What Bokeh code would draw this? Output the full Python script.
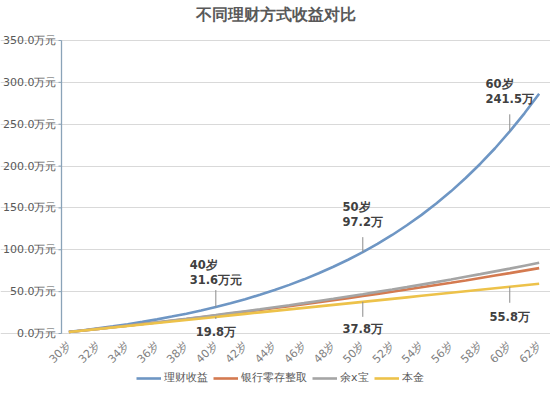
import math
from bokeh.plotting import figure
from bokeh.models import (ColumnDataSource, FixedTicker, Legend, LegendItem, Range1d, LabelSet, Label)
from bokeh.core.properties import value
from bokeh.embed import file_html
from bokeh.resources import INLINE

# ---- data ----
ages = list(range(30, 63))
licai = [1.9, 3.9, 6.1, 8.5, 11.1, 13.9, 16.9, 20.2, 23.7, 27.5, 31.6,
         36.2, 41.0, 46.3, 51.9, 58.1, 64.7, 71.9, 79.7, 88.1, 97.2,
         107.1, 117.7, 129.3, 141.7, 155.2, 169.8, 185.7, 202.8, 221.3, 241.5,
         263.0, 286.4]
bank = [1.8, 3.6, 5.5, 7.4, 9.3, 11.3, 13.2, 15.3, 17.3, 19.4, 21.5,
        23.7, 25.9, 28.1, 30.4, 32.7, 35.0, 37.4, 39.8, 42.3, 44.7,
        47.3, 49.9, 52.5, 55.2, 57.9, 60.6, 63.4, 66.3, 69.2, 72.1,
        75.1, 78.1]
yuebao = [1.8, 3.6, 5.5, 7.4, 9.4, 11.4, 13.4, 15.5, 17.6, 19.8, 22.0,
          24.3, 26.6, 28.9, 31.4, 33.8, 36.3, 38.9, 41.5, 44.2, 46.9,
          49.7, 52.5, 55.4, 58.4, 61.4, 64.5, 67.7, 70.9, 74.2, 77.5,
          81.0, 84.5]
benjin = [1.8, 3.6, 5.4, 7.2, 9.0, 10.8, 12.6, 14.4, 16.2, 18.0, 19.8,
          21.6, 23.4, 25.2, 27.0, 28.8, 30.6, 32.4, 34.2, 36.0, 37.8,
          39.6, 41.4, 43.2, 45.0, 46.8, 48.6, 50.4, 52.2, 54.0, 55.8,
          57.6, 59.4]
series_names = ["理财收益", "银行零存整取", "余x宝", "本金"]
y_ticks = [0, 50, 100, 150, 200, 250, 300, 350]
y_tick_labels = [f"{t:.1f}万元" for t in y_ticks]
x_ticks = list(range(30, 63, 2))
x_tick_labels = [f"{t}岁" for t in x_ticks]
ann_ages = [40, 50, 60]
ann_top = ["40岁\n31.6万元", "50岁\n97.2万", "60岁\n241.5万"]
ann_bottom = ["19.8万", "37.8万", "55.8万"]
title_text = "不同理财方式收益对比"

# ---- styles / layout (pixels) ----
colors = ["#6E96C4", "#D47A50", "#A5A5A5", "#EDC24A"]
FONT = "DejaVu Sans"
TXT = "#595959"
AXIS_C = "#8AA3B8"
W, H = 550, 400            # the frame covers the whole figure
PLOT_L, PLOT_R = 61, 546   # pixel span of the category band
PLOT_T, PLOT_B = 40, 333   # pixel span of the 0..350 value band
X0, X1 = ages[0] - 0.5, ages[-1] + 0.5
Y_MAX = y_ticks[-1]
PXX = (X1 - X0) / (PLOT_R - PLOT_L)
PX = Y_MAX / (PLOT_B - PLOT_T)

p = figure(frame_width=W, frame_height=H, output_backend="svg",
           toolbar_location=None, x_axis_location=None, y_axis_location=None,
           x_range=Range1d(X0 - PLOT_L * PXX, X1 + (W - PLOT_R) * PXX),
           y_range=Range1d(-(H - PLOT_B) * PX, Y_MAX + PLOT_T * PX),
           min_border=0, background_fill_color="white",
           border_fill_color="white", outline_line_color=None)

# grid (horizontal only, bounded to the plot band)
p.xgrid.visible = False
p.ygrid.ticker = FixedTicker(ticks=y_ticks)
p.ygrid.bounds = (X0, X1)
p.ygrid.grid_line_color = "#D9D9D9"
p.ygrid.grid_line_width = 1

# series
src = ColumnDataSource(dict(age=ages, licai=licai, bank=bank, yuebao=yuebao, benjin=benjin))
renderers = []
for col, c in zip(["licai", "bank", "yuebao", "benjin"], colors):
    r = p.line("age", col, source=src, line_color=c, line_width=2.6)
    renderers.append(r)

# y axis line, ticks and labels
p.segment(x0=[X0], y0=[0], x1=[X0], y1=[Y_MAX], line_color=AXIS_C, line_width=1.3)
p.segment(x0=[X0] * len(y_ticks), y0=y_ticks, x1=[X0 - 3 * PXX] * len(y_ticks), y1=y_ticks,
          line_color=AXIS_C, line_width=1)
yt_src = ColumnDataSource(dict(x=[X0] * len(y_ticks), y=y_ticks, t=y_tick_labels))
p.add_layout(LabelSet(x="x", y="y", text="t", source=yt_src, x_offset=-5,
                      text_align="right", text_baseline="middle",
                      text_font=value(FONT), text_font_size="11px", text_color=TXT))

# x tick labels (rotated)
xt_src = ColumnDataSource(dict(x=x_ticks, y=[0] * len(x_ticks), t=x_tick_labels))
p.add_layout(LabelSet(x="x", y="y", text="t", source=xt_src, angle=math.pi / 4,
                      x_offset=0, y_offset=-10, text_align="right", text_baseline="middle",
                      text_font=value(FONT), text_font_size="11px", text_color="#7F7F7F"))

# title
p.add_layout(Label(x=275, y=H - 14, x_units="screen", y_units="screen", text=title_text,
                   text_align="center", text_baseline="middle", text_font=FONT,
                   text_font_size="16px", text_font_style="bold", text_color=TXT))

# data annotations with leader lines
idx = [ages.index(a) for a in ann_ages]
top_vals = [licai[i] for i in idx]
bot_vals = [benjin[i] for i in idx]
top_lead = [17, 15, 17]
top_gap = [20, 23, 25]
bot_lead = [2, 15, 16]
bot_gap = [-8, -20, -23]

p.segment(x0=ann_ages, y0=top_vals, x1=ann_ages,
          y1=[v + l * PX for v, l in zip(top_vals, top_lead)],
          line_color="#8C8C8C", line_width=1)
p.segment(x0=ann_ages, y0=bot_vals, x1=ann_ages,
          y1=[v - l * PX for v, l in zip(bot_vals, bot_lead)],
          line_color="#8C8C8C", line_width=1)

ann_src = ColumnDataSource(dict(age=ann_ages, top=top_vals, bot=bot_vals,
                                ttxt=ann_top, btxt=ann_bottom, toff=top_gap, boff=bot_gap))
p.add_layout(LabelSet(x="age", y="top", text="ttxt", source=ann_src, y_offset="toff",
                      text_align="center", text_baseline="bottom",
                      text_font=value(FONT), text_font_size="11.5px", text_font_style="bold",
                      text_color="#404040", text_line_height=1.1))
p.add_layout(LabelSet(x="age", y="bot", text="btxt", source=ann_src, y_offset="boff",
                      text_align="center", text_baseline="top",
                      text_font=value(FONT), text_font_size="11.5px", text_font_style="bold",
                      text_color="#404040"))

# legend: location is the bottom-left corner, measured from the frame's bottom-left
legend = Legend(items=[LegendItem(label=n, renderers=[r]) for n, r in zip(series_names, renderers)],
                orientation="horizontal", location=(136, H - 385),
                label_text_font=FONT, label_text_font_size="11px",
                label_text_color=TXT, glyph_width=25, glyph_height=14, label_height=14,
                label_standoff=3, spacing=5, padding=0, margin=0,
                border_line_color=None, background_fill_alpha=0)
p.add_layout(legend)

open("out.html", "w").write(file_html(p, INLINE))
